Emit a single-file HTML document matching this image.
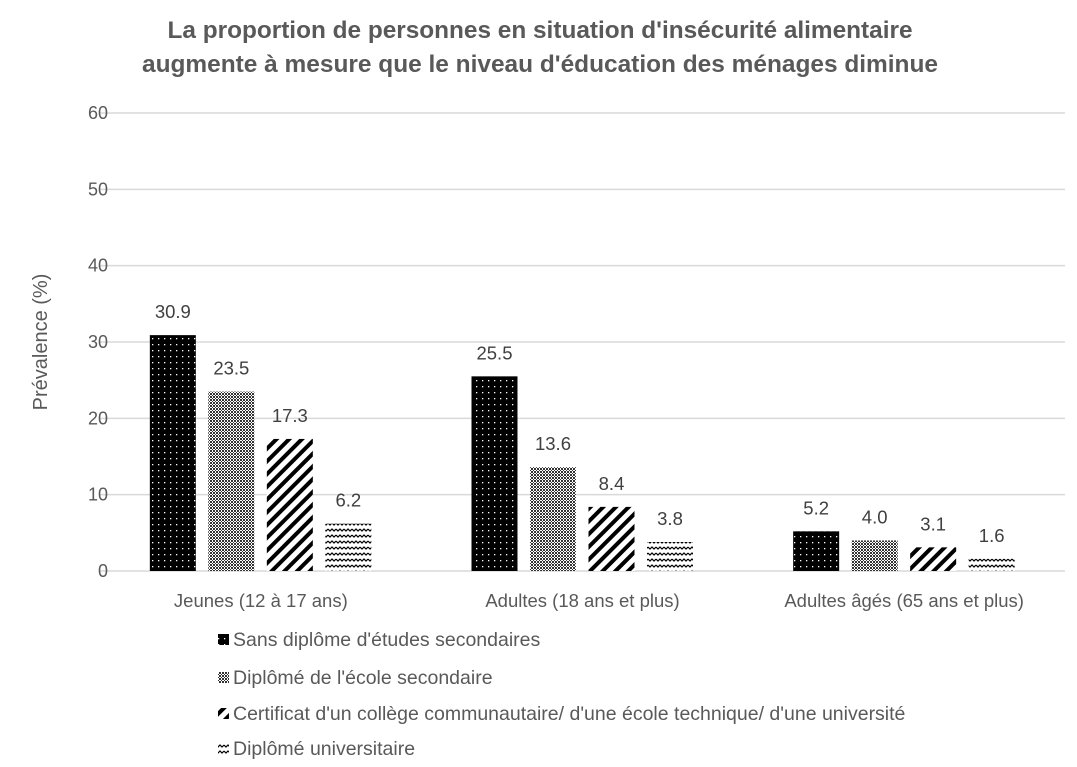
<!DOCTYPE html>
<html><head><meta charset="utf-8"><style>
body{margin:0;background:#fff;}
svg{display:block;font-family:"Liberation Sans",sans-serif;}
</style></head><body>
<svg id="chart" width="1077" height="767" viewBox="0 0 1077 767">
<defs>
<pattern id="p0" width="6" height="6" patternUnits="userSpaceOnUse"><rect width="6" height="6" fill="#000"/><rect x="2" y="2" width="1.3" height="1.3" fill="#fff"/></pattern>
<pattern id="p1" width="3" height="3" patternUnits="userSpaceOnUse"><rect width="3" height="3" fill="#fff"/><rect width="2" height="2" fill="#333"/><rect x="2" y="2" width="1" height="1" fill="#333"/></pattern>
<pattern id="p2" width="9" height="9" patternUnits="userSpaceOnUse" patternTransform="rotate(45)"><rect width="9" height="9" fill="#fff"/><rect width="4" height="9" fill="#000"/></pattern>
<pattern id="p3" width="8" height="6" patternUnits="userSpaceOnUse"><rect width="8" height="6" fill="#fff"/><polyline points="0,1 2,3 4,1 6,3 8,1" fill="none" stroke="#000" stroke-width="1.2"/></pattern>
</defs>
<text x="540" y="38" text-anchor="middle" font-size="24" font-weight="bold" fill="#595959" textLength="745" lengthAdjust="spacingAndGlyphs">La proportion de personnes en situation d'insécurité alimentaire</text>
<text x="540" y="72" text-anchor="middle" font-size="24" font-weight="bold" fill="#595959" textLength="796" lengthAdjust="spacingAndGlyphs">augmente à mesure que le niveau d'éducation des ménages diminue</text>
<text transform="translate(47,342) rotate(-90)" text-anchor="middle" font-size="20" fill="#595959">Prévalence (%)</text>
<g id="grid"></g><g id="bars"></g>
<g id="legend"></g>
</svg>
<script>
const categories=["Jeunes (12 à 17 ans)","Adultes (18 ans et plus)","Adultes âgés (65 ans et plus)"];
const seriesNames=["Sans diplôme d'études secondaires","Diplômé de l'école secondaire","Certificat d'un collège communautaire/ d'une école technique/ d'une université","Diplômé universitaire"];
const s0=[30.9,25.5,5.2];
const s1=[23.5,13.6,4.0];
const s2=[17.3,8.4,3.1];
const s3=[6.2,3.8,1.6];
const ticks=[0,10,20,30,40,50,60];
const series=[s0,s1,s2,s3];
const NS="http://www.w3.org/2000/svg";
const x0=100,x1=1065,y0=571,yTop=113,ymax=60;
const y=v=>y0-(y0-yTop)*v/ymax;
const gw=(x1-x0)/categories.length;
const cx=i=>x0+gw*(i+0.5);
function mk(t,a,p){const e=document.createElementNS(NS,t);for(const k in a)e.setAttribute(k,a[k]);p.appendChild(e);return e;}
const grid=document.getElementById('grid'),bars=document.getElementById('bars'),leg=document.getElementById('legend');
ticks.forEach(t=>{
 const l=mk('line',{x1:x0,x2:x1,y1:y(t),y2:y(t),stroke:'#d9d9d9','stroke-width':1.5},grid);
 
 
 const tx=mk('text',{x:108,y:y(t)+6,'text-anchor':'end','font-size':18,fill:'#595959'},grid);tx.textContent=t;
 
 
});
const bw=46,offs=[-111,-52.5,6,64.5];
categories.forEach((c,i)=>{
 const tx=mk('text',{x:cx(i),y:607,'text-anchor':'middle','font-size':18.5,fill:'#595959'},grid);tx.textContent=c;
 
 
 series.forEach((s,j)=>{
  const bx=cx(i)+offs[j];
  const r=mk('rect',{x:bx,y:y(s[i]),width:bw,height:y0-y(s[i]),fill:'url(#p'+j+')'},bars);
  
  
  const v=mk('text',{x:bx+bw/2,y:y(s[i])-17,'text-anchor':'middle','font-size':18.5,fill:'#404040'},bars);v.textContent=s[i].toFixed(1);
  
  
 });
});
seriesNames.forEach((n,j)=>{
 const ly=[640,678,714,749][j];
 const g=mk('g',{},leg);
 
 
 mk('rect',{x:218,y:ly-6,width:11,height:11,fill:'url(#p'+j+')'},g);
 const t=mk('text',{x:233,y:ly+6,'font-size':19.5,fill:'#595959'},g);t.textContent=n;
});
</script>
</body></html>
